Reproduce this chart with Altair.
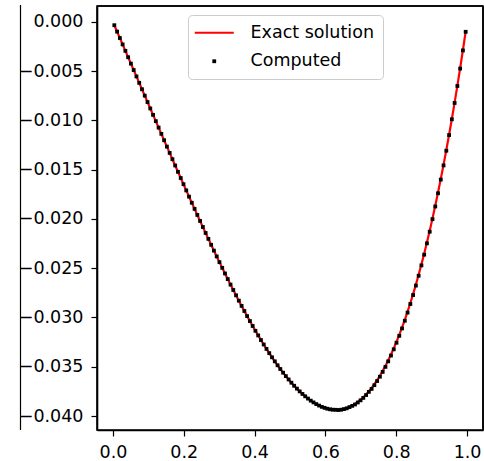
import altair as alt
import pandas as pd

x_vals = [
    0.00391, 0.01172, 0.01953, 0.02734, 0.03516, 0.04297, 0.05078, 0.05859, 0.06641, 0.07422,
    0.08203, 0.08984, 0.09766, 0.10547, 0.11328, 0.12109, 0.12891, 0.13672, 0.14453, 0.15234,
    0.16016, 0.16797, 0.17578, 0.18359, 0.19141, 0.19922, 0.20703, 0.21484, 0.22266, 0.23047,
    0.23828, 0.24609, 0.25391, 0.26172, 0.26953, 0.27734, 0.28516, 0.29297, 0.30078, 0.30859,
    0.31641, 0.32422, 0.33203, 0.33984, 0.34766, 0.35547, 0.36328, 0.37109, 0.37891, 0.38672,
    0.39453, 0.40234, 0.41016, 0.41797, 0.42578, 0.43359, 0.44141, 0.44922, 0.45703, 0.46484,
    0.47266, 0.48047, 0.48828, 0.49609, 0.50391, 0.51172, 0.51953, 0.52734, 0.53516, 0.54297,
    0.55078, 0.55859, 0.56641, 0.57422, 0.58203, 0.58984, 0.59766, 0.60547, 0.61328, 0.62109,
    0.62891, 0.63672, 0.64453, 0.65234, 0.66016, 0.66797, 0.67578, 0.68359, 0.69141, 0.69922,
    0.70703, 0.71484, 0.72266, 0.73047, 0.73828, 0.74609, 0.75391, 0.76172, 0.76953, 0.77734,
    0.78516, 0.79297, 0.80078, 0.80859, 0.81641, 0.82422, 0.83203, 0.83984, 0.84766, 0.85547,
    0.86328, 0.87109, 0.87891, 0.88672, 0.89453, 0.90234, 0.91016, 0.91797, 0.92578, 0.93359,
    0.94141, 0.94922, 0.95703, 0.96484, 0.97266, 0.98047, 0.98828, 0.99609,
]

y_exact = [
    -0.00033, -0.00098, -0.00163, -0.00228, -0.00293, -0.00358, -0.00423, -0.00488, -0.00553, -0.00618,
    -0.00683, -0.00748, -0.00813, -0.00878, -0.00943, -0.01007, -0.01072, -0.01136, -0.01201, -0.01265,
    -0.01329, -0.01393, -0.01457, -0.01521, -0.01584, -0.01647, -0.01710, -0.01773, -0.01835, -0.01897,
    -0.01959, -0.02020, -0.02081, -0.02142, -0.02202, -0.02262, -0.02321, -0.02380, -0.02438, -0.02496,
    -0.02553, -0.02610, -0.02666, -0.02721, -0.02775, -0.02829, -0.02882, -0.02934, -0.02986, -0.03036,
    -0.03086, -0.03135, -0.03182, -0.03229, -0.03274, -0.03319, -0.03362, -0.03404, -0.03445, -0.03485,
    -0.03523, -0.03560, -0.03595, -0.03629, -0.03662, -0.03693, -0.03722, -0.03750, -0.03776, -0.03800,
    -0.03823, -0.03844, -0.03862, -0.03879, -0.03894, -0.03907, -0.03917, -0.03926, -0.03932, -0.03936,
    -0.03937, -0.03936, -0.03933, -0.03927, -0.03919, -0.03907, -0.03894, -0.03877, -0.03857, -0.03835,
    -0.03810, -0.03781, -0.03749, -0.03715, -0.03677, -0.03635, -0.03591, -0.03542, -0.03491, -0.03435,
    -0.03376, -0.03313, -0.03246, -0.03176, -0.03101, -0.03023, -0.02940, -0.02853, -0.02762, -0.02666,
    -0.02566, -0.02461, -0.02352, -0.02237, -0.02119, -0.01995, -0.01866, -0.01732, -0.01593, -0.01449,
    -0.01300, -0.01145, -0.00985, -0.00819, -0.00647, -0.00470, -0.00286, -0.00097,
]

y_computed = [
    -0.00033, -0.00098, -0.00163, -0.00228, -0.00293, -0.00358, -0.00423, -0.00488, -0.00553, -0.00618,
    -0.00683, -0.00748, -0.00813, -0.00878, -0.00943, -0.01007, -0.01072, -0.01136, -0.01201, -0.01265,
    -0.01329, -0.01393, -0.01457, -0.01521, -0.01584, -0.01647, -0.01710, -0.01773, -0.01835, -0.01897,
    -0.01959, -0.02020, -0.02081, -0.02142, -0.02202, -0.02262, -0.02321, -0.02380, -0.02438, -0.02496,
    -0.02553, -0.02610, -0.02666, -0.02721, -0.02775, -0.02829, -0.02882, -0.02934, -0.02986, -0.03036,
    -0.03086, -0.03135, -0.03182, -0.03229, -0.03274, -0.03319, -0.03362, -0.03404, -0.03445, -0.03485,
    -0.03523, -0.03560, -0.03595, -0.03629, -0.03662, -0.03693, -0.03722, -0.03750, -0.03776, -0.03800,
    -0.03823, -0.03844, -0.03862, -0.03879, -0.03894, -0.03907, -0.03917, -0.03926, -0.03932, -0.03936,
    -0.03937, -0.03939, -0.03936, -0.03930, -0.03922, -0.03910, -0.03897, -0.03883, -0.03863, -0.03841,
    -0.03816, -0.03787, -0.03755, -0.03725, -0.03687, -0.03645, -0.03601, -0.03552, -0.03501, -0.03445,
    -0.03386, -0.03323, -0.03256, -0.03186, -0.03111, -0.03033, -0.02950, -0.02863, -0.02772, -0.02676,
    -0.02576, -0.02471, -0.02362, -0.02247, -0.02129, -0.02002, -0.01873, -0.01739, -0.01600, -0.01456,
    -0.01307, -0.01148, -0.00988, -0.00822, -0.00650, -0.00473, -0.00289, -0.00100,
]

series_names = ["Exact solution", "Computed"]
series_colors = ["red", "black"]
x_ticks = [0.0, 0.2, 0.4, 0.6, 0.8, 1.0]
y_ticks = [0.0, -0.005, -0.010, -0.015, -0.020, -0.025, -0.030, -0.035, -0.040]

exact_df = pd.DataFrame({"x": x_vals, "y": y_exact})
comp_df = pd.DataFrame({"x": x_vals, "y": y_computed, "series": "Computed"})
frame_df = pd.DataFrame({"x0": [-0.045], "x1": [1.045], "y0": [-0.04142], "y1": [0.00162]})
one_row = pd.DataFrame({"k": [0]})

FONT = "DejaVu Sans"
FS = 17.5
W, H = 386, 424

xscale = alt.Scale(domain=[-0.045, 1.045], nice=False, zero=False)
yscale = alt.Scale(domain=[-0.04142, 0.00162], nice=False, zero=False)

xaxis = alt.Axis(values=x_ticks, format=".1f", title=None, grid=False, domain=True,
                 domainColor="black", domainWidth=1.6,
                 tickColor="black", tickSize=6, tickWidth=1.2, labelFont=FONT,
                 labelFontSize=FS, labelColor="black", labelPadding=7)
yaxis = alt.Axis(values=y_ticks, format=".3f", title=None, grid=False, domain=True,
                 domainColor="black", domainWidth=1.6,
                 tickColor="black", tickSize=6, tickWidth=1.2, labelFont=FONT,
                 labelFontSize=FS, labelColor="black", labelPadding=8)

line = alt.Chart(exact_df).mark_line(color="red", strokeWidth=2.2).encode(
    x=alt.X("x:Q", scale=xscale, axis=xaxis),
    y=alt.Y("y:Q", scale=yscale, axis=yaxis),
)

line_path = "M-3.9,-0.2H3.9V0.2H-3.9Z"
dot_path = "M-0.38,-0.38H0.38V0.38H-0.38Z"

legend_opts = dict(title=None, orient="none", legendX=91, legendY=9,
                   padding=9, strokeColor="#cccccc", fillColor="white",
                   cornerRadius=4, labelFont=FONT, labelFontSize=FS,
                   labelColor="black", symbolSize=100, symbolOffset=8.5,
                   labelOffset=27.5, rowPadding=9.5, symbolOpacity=1,
                   symbolStrokeWidth=0)

points = alt.Chart(comp_df).mark_point(filled=True, opacity=1, size=100, strokeWidth=0).encode(
    x=alt.X("x:Q", scale=xscale),
    y=alt.Y("y:Q", scale=yscale),
    color=alt.Color("series:N", scale=alt.Scale(domain=series_names, range=series_colors),
                    legend=alt.Legend(**legend_opts)),
    shape=alt.Shape("series:N", scale=alt.Scale(domain=series_names, range=[line_path, dot_path]),
                    legend=alt.Legend(**legend_opts)),
)

frame_top = alt.Chart(frame_df).mark_rule(color="black", strokeWidth=1.6).encode(
    x=alt.X("x0:Q", scale=xscale), x2="x1:Q", y=alt.Y("y1:Q", scale=yscale)
)
frame_right = alt.Chart(frame_df).mark_rule(color="black", strokeWidth=1.6).encode(
    x=alt.X("x1:Q", scale=xscale), y=alt.Y("y0:Q", scale=yscale), y2="y1:Q"
)

extra_spine = alt.Chart(one_row).mark_rule(color="black", strokeWidth=1.2).encode(
    x=alt.value(-76.5), y=alt.value(-1), y2=alt.value(H)
)

chart = alt.layer(line, points, frame_top, frame_right, extra_spine).properties(
    width=W, height=H,
    autosize=alt.AutoSizeParams(type="none"),
    padding={"left": 97, "top": 6, "right": 1, "bottom": 31},
).configure_view(stroke="black", strokeWidth=1.6)

chart.save("out.html", embed_options={"renderer": "svg", "actions": False})
